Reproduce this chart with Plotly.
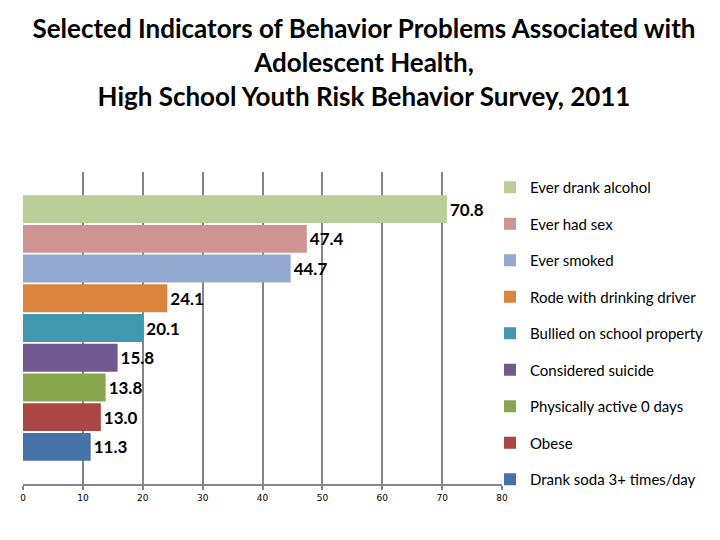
import plotly.graph_objects as go

categories = [
    "Ever drank alcohol",
    "Ever had sex",
    "Ever smoked",
    "Rode with drinking driver",
    "Bullied on school property",
    "Considered suicide",
    "Physically active 0 days",
    "Obese",
    "Drank soda 3+ times/day",
]
values = [70.8, 47.4, 44.7, 24.1, 20.1, 15.8, 13.8, 13.0, 11.3]
colors = ["#B9CD96", "#D19392", "#93A9CF", "#DB843D", "#4198AF",
          "#71588F", "#89A54E", "#AA4643", "#4572A7"]
x_ticks = [0, 10, 20, 30, 40, 50, 60, 70, 80]

W, H = 712, 532

fig = go.Figure()
for cat, val, col in zip(categories, values, colors):
    fig.add_trace(go.Bar(
        y=[cat], x=[val], name=cat, orientation="h",
        marker=dict(color=col, line=dict(width=0)),
        text=[f"{val:.1f}"], textposition="outside",
        textfont=dict(family="Lato", size=17, color="black", weight="bold"),
        cliponaxis=False, legendgroup=cat,
    ))

fig.update_layout(
    width=W, height=H,
    margin=dict(l=15, r=218, t=164, b=56, autoexpand=False),
    paper_bgcolor="white", plot_bgcolor="white",
    bargap=0.06,
    title=dict(
        text="Selected Indicators of Behavior Problems Associated with<br>"
             "Adolescent Health,<br>High School Youth Risk Behavior Survey, 2011",
        x=0.5, xanchor="center", xref="container",
        y=1 - 30 / H, yanchor="middle", yref="container",
        font=dict(family="Lato", size=26, color="black", weight="bold"),
    ),
    font=dict(family="Lato", color="black"),
    legend=dict(
        xref="container", yref="container",
        x=482 / W, xanchor="left",
        y=1 - 163 / H, yanchor="top",
        font=dict(family="Lato", size=15, color="black"),
        tracegroupgap=14, traceorder="grouped",
        bgcolor="rgba(0,0,0,0)", maxheight=440,
    ),
)
fig.update_xaxes(
    range=[0, 80], tickvals=x_ticks, ticktext=[str(t) for t in x_ticks],
    showgrid=True, gridcolor="#868686", gridwidth=2,
    showline=True, linecolor="#868686", linewidth=2,
    ticks="outside", ticklen=4, tickcolor="#868686", tickwidth=2,
    tickfont=dict(family="DejaVu Sans", size=9, color="black"),
    zeroline=False,
)
fig.update_yaxes(
    categoryorder="array", categoryarray=categories,
    range=[9.25, -1.25], showticklabels=False, showgrid=False,
    zeroline=False, showline=False, ticks="",
)

fig.write_html("out.html")
